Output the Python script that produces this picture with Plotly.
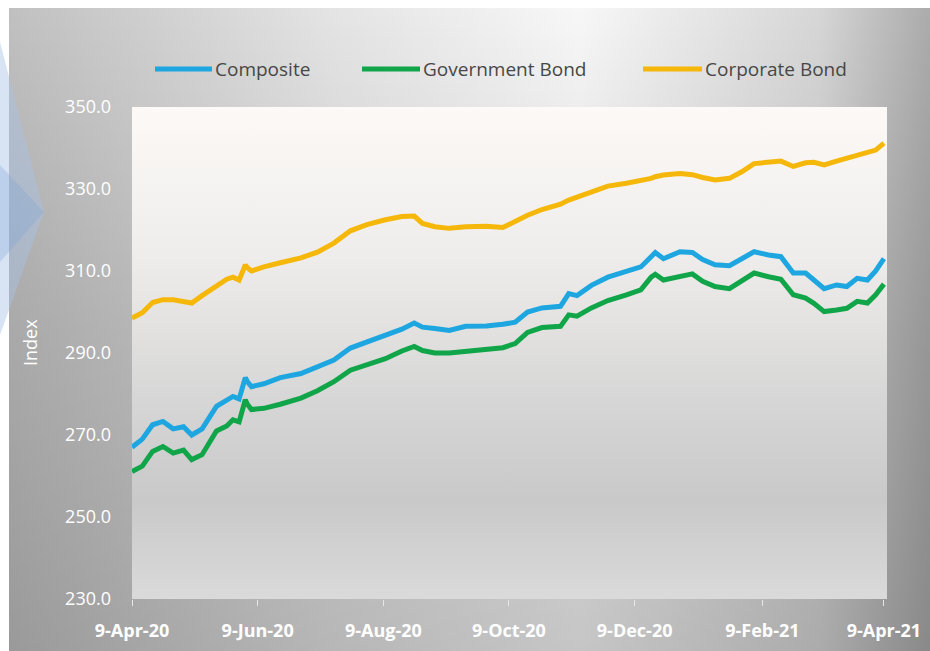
import base64
import plotly.graph_objects as go

# ---- data -------------------------------------------------------------
dates = [
    "2020-04-09", "2020-04-14", "2020-04-19", "2020-04-24", "2020-04-29",
    "2020-05-04", "2020-05-08", "2020-05-13", "2020-05-20", "2020-05-25",
    "2020-05-28", "2020-05-31", "2020-06-03", "2020-06-04", "2020-06-06",
    "2020-06-12", "2020-06-20", "2020-06-30", "2020-07-08", "2020-07-16",
    "2020-07-24", "2020-08-01", "2020-08-10", "2020-08-18", "2020-08-24",
    "2020-08-28", "2020-09-03", "2020-09-10", "2020-09-18", "2020-09-28",
    "2020-10-06", "2020-10-12", "2020-10-18", "2020-10-25", "2020-11-03",
    "2020-11-07", "2020-11-11", "2020-11-18", "2020-11-26", "2020-12-05",
    "2020-12-12", "2020-12-17", "2020-12-19", "2020-12-23", "2020-12-31",
    "2021-01-06", "2021-01-11", "2021-01-17", "2021-01-24", "2021-01-30",
    "2021-02-05", "2021-02-12", "2021-02-18", "2021-02-24", "2021-03-02",
    "2021-03-06", "2021-03-11", "2021-03-17", "2021-03-22", "2021-03-27",
    "2021-04-01", "2021-04-05", "2021-04-09",
]

composite = [
    267.0, 269.0, 272.5, 273.3, 271.5, 272.0, 270.0, 271.5, 277.0, 278.3,
    279.4, 278.8, 284.0, 283.0, 281.8, 282.5, 284.0, 285.0, 286.5, 288.3,
    291.2, 292.7, 294.3, 295.8, 297.3, 296.3, 296.0, 295.5, 296.5, 296.6,
    297.0, 297.5, 300.0, 301.0, 301.4, 304.5, 304.0, 306.5, 308.5, 310.0,
    311.0, 313.5, 314.5, 313.0, 314.7, 314.5, 312.8, 311.5, 311.3, 313.0,
    314.7, 313.9, 313.5, 309.5, 309.5, 307.8, 305.7, 306.6, 306.2, 308.2,
    307.8, 310.0, 313.0,
]

government = [
    261.1, 262.4, 266.0, 267.2, 265.6, 266.3, 264.0, 265.2, 271.0, 272.2,
    273.7, 273.2, 278.6, 277.5, 276.2, 276.5, 277.5, 279.0, 280.8, 283.0,
    285.8, 287.2, 288.6, 290.5, 291.6, 290.6, 290.0, 290.0, 290.4, 290.7,
    291.3, 292.3, 295.0, 296.2, 296.5, 299.3, 299.0, 301.0, 302.8, 304.2,
    305.4, 308.5, 309.2, 307.8, 308.8, 309.3, 307.5, 306.2, 305.7, 307.5,
    309.5, 308.6, 308.0, 304.2, 303.4, 302.1, 300.1, 300.5, 300.9, 302.6,
    302.2, 304.2, 306.8,
]

corporate = [
    298.5, 299.8, 302.3, 303.0, 303.0, 302.5, 302.2, 304.0, 306.3, 308.0,
    308.5, 307.8, 311.5, 310.8, 310.0, 311.0, 312.0, 313.2, 314.6, 316.8,
    319.8, 321.3, 322.5, 323.3, 323.4, 321.6, 320.8, 320.4, 320.8, 320.9,
    320.6, 322.1, 323.6, 325.0, 326.3, 327.3, 328.0, 329.2, 330.7, 331.4,
    332.0, 332.6, 333.0, 333.4, 333.8, 333.5, 332.8, 332.2, 332.6, 334.2,
    336.2, 336.5, 336.8, 335.5, 336.4, 336.5, 335.9, 336.8, 337.5, 338.2,
    338.9, 339.5, 341.2,
]

series_names = ["Composite", "Government Bond", "Corporate Bond"]
series_colors = ["#1ea6e0", "#11a54a", "#f5b80a"]

tick_dates = ["2020-04-09", "2020-06-09", "2020-08-09", "2020-10-09",
              "2020-12-09", "2021-02-09", "2021-04-09"]
tick_text = ["9-Apr-20", "9-Jun-20", "9-Aug-20", "9-Oct-20",
             "9-Dec-20", "9-Feb-21", "9-Apr-21"]
y_ticks = [230, 250, 270, 290, 310, 330, 350]

# ---- geometry (pixels) ------------------------------------------------
W, H = 930, 651
L, R, T, B = 132, 43, 107, 52
PW, PH = W - L - R, H - T - B


def px_x(x):
    return (x - L) / PW


def px_y(y):
    return (H - B - y) / PH


# ---- gradient backdrop as an inline SVG -------------------------------
svg = f"""<svg xmlns='http://www.w3.org/2000/svg' width='{W}' height='{H}' viewBox='0 0 {W} {H}'>
<defs>
<linearGradient id='h' x1='0' y1='0' x2='1' y2='0'>
<stop offset='0' stop-color='#c0c0c0'/>
<stop offset='0.35' stop-color='#e4e4e4'/>
<stop offset='0.62' stop-color='#f7f7f7'/>
<stop offset='0.88' stop-color='#d6d6d6'/>
<stop offset='1' stop-color='#ababab'/>
</linearGradient>
<linearGradient id='v' x1='0' y1='0' x2='0' y2='1'>
<stop offset='0' stop-color='#000' stop-opacity='0'/>
<stop offset='0.5' stop-color='#000' stop-opacity='0.12'/>
<stop offset='1' stop-color='#000' stop-opacity='0.2'/>
</linearGradient>
<linearGradient id='p' x1='0' y1='0' x2='0' y2='1'>
<stop offset='0' stop-color='#fcf9f7'/>
<stop offset='0.3' stop-color='#efedeb'/>
<stop offset='0.6' stop-color='#d6d6d6'/>
<stop offset='0.8' stop-color='#c9c9c9'/>
<stop offset='1' stop-color='#dadada'/>
</linearGradient>
</defs>
<rect width='{W}' height='{H}' fill='#ffffff'/>
<rect x='9' y='8' width='{W - 9}' height='{H - 8}' fill='url(#h)'/>
<rect x='9' y='8' width='{W - 9}' height='{H - 8}' fill='url(#v)'/>
<rect x='{L}' y='{T}' width='{PW}' height='{PH}' fill='url(#p)'/>
<path d='M0,42 L44,212 L0,335 Z' fill='#a9c2e6' fill-opacity='0.45'/>
<path d='M0,165 L44,212 L0,262 Z' fill='#7fa6d8' fill-opacity='0.3'/>
</svg>"""
bg_src = "data:image/svg+xml;base64," + base64.b64encode(svg.encode()).decode()

# ---- figure -----------------------------------------------------------
fig = go.Figure()
for name, vals, color in zip(series_names, [composite, government, corporate], series_colors):
    fig.add_trace(go.Scatter(
        x=dates, y=vals, mode="lines", name=name,
        line=dict(color=color, width=5, shape="linear"),
        showlegend=False,
    ))

fig.add_layout_image(dict(
    source=bg_src, xref="paper", yref="paper",
    x=px_x(0), y=px_y(0), sizex=W / PW, sizey=H / PH,
    xanchor="left", yanchor="top", sizing="stretch", layer="below",
))

# legend drawn by hand: long line keys followed by labels
legend_items = [
    (155, 212, 213),
    (362, 420, 421),
    (643, 702, 703),
]
legend_y = 69
for (x0, x1, xt), name, color in zip(legend_items, series_names, series_colors):
    fig.add_shape(type="line", xref="paper", yref="paper",
                  x0=px_x(x0), x1=px_x(x1), y0=px_y(legend_y), y1=px_y(legend_y),
                  line=dict(color=color, width=5))
    fig.add_annotation(text=name, xref="paper", yref="paper",
                       x=px_x(xt), y=px_y(legend_y), xanchor="left", yanchor="middle",
                       showarrow=False,
                       font=dict(family="Open Sans", size=19, color="#474747"))

fig.add_annotation(text="Index", xref="paper", yref="paper",
                   x=px_x(30), y=px_y(343), textangle=-90,
                   xanchor="center", yanchor="middle", showarrow=False,
                   font=dict(family="Open Sans", size=18, color="#ffffff"))

fig.update_layout(
    width=W, height=H,
    margin=dict(l=L, r=R, t=T, b=B, pad=0, autoexpand=False),
    paper_bgcolor="#ffffff",
    plot_bgcolor="rgba(0,0,0,0)",
    font=dict(family="Open Sans", color="#ffffff"),
    xaxis=dict(
        type="date", automargin=False,
        range=["2020-04-09", "2021-04-10 12:00"],
        tickmode="array", tickvals=tick_dates, ticktext=tick_text,
        ticks="outside", ticklen=6, tickcolor="#e6e6e6", tickwidth=1,
        ticklabelstandoff=9,
        tickfont=dict(family="Open Sans", size=18, color="#ffffff", weight="bold"),
        showgrid=False, zeroline=False, showline=False,
    ),
    yaxis=dict(
        automargin=False,
        range=[230, 350],
        tickmode="array", tickvals=y_ticks,
        ticktext=[f"{v:.1f}" for v in y_ticks],
        ticks="", ticklabelstandoff=20,
        tickfont=dict(family="Open Sans", size=18, color="#ffffff"),
        showgrid=False, zeroline=False, showline=False,
    ),
)

fig.write_html("out.html")
